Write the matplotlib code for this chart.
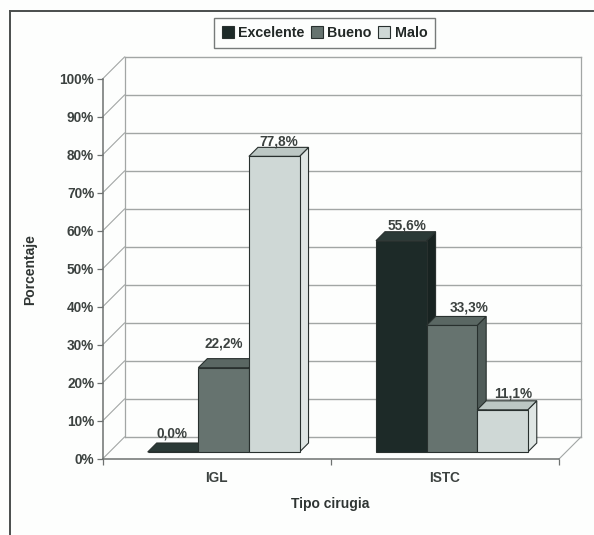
import matplotlib
matplotlib.use("Agg")
import matplotlib.pyplot as plt
from matplotlib.lines import Line2D
from matplotlib.patches import Patch, Polygon

categories = ["IGL", "ISTC"]
series_names = ["Excelente", "Bueno", "Malo"]
excelente = [0.0, 55.6]
bueno = [22.2, 33.3]
malo = [77.8, 11.1]
y_ticks = list(range(0, 101, 10))

# label nudges in pixels (x, y above the bar front), category then series
label_nudge = [[(-1, 19), (0, 24), (5, 15)],
               [(6, 15), (17, 18), (11, 16)]]

W, H = 594, 535
plt.rcParams["font.family"] = ["Liberation Sans", "DejaVu Sans"]
plt.rcParams["font.weight"] = "bold"

fig = plt.figure(figsize=(W / 100, H / 100), dpi=100, facecolor="#fdfefd")

# front plane of the fake 3D box, in pixels
left, right, bottom, top = 102.5, 559, 459, 79
ax = fig.add_axes([left / W, 1 - bottom / H, (right - left) / W, (bottom - top) / H])
ax.set_xlim(0, 2)
ax.set_ylim(0, 100)
ax.patch.set_visible(False)
for s in ax.spines.values():
    s.set_visible(False)

ux = (right - left) / 2      # px per category
uy = (bottom - top) / 100    # px per percent

wall_dx, wall_dy = 22 / ux, 22 / uy
gap_dx, gap_dy = 7 / ux, 7 / uy
bar_dx, bar_dy = 9 / ux, 9 / uy
bar_w = 50.6 / ux

grid_col = "#a2a6a5"
axis_col = "#6e7271"

# back wall and side wall
for t in y_ticks:
    ax.plot([wall_dx, 2 + wall_dx], [t + wall_dy] * 2, color=grid_col, lw=1.0, clip_on=False, zorder=1)
    ax.plot([0, wall_dx], [t, t + wall_dy], color=grid_col, lw=0.8, clip_on=False, zorder=1)
ax.plot([wall_dx, wall_dx], [wall_dy, 100 + wall_dy], color=grid_col, lw=0.9, clip_on=False, zorder=1)
ax.plot([2 + wall_dx] * 2, [wall_dy, 100 + wall_dy], color=grid_col, lw=0.9, clip_on=False, zorder=1)
ax.plot([2, 2 + wall_dx], [0, wall_dy], color=grid_col, lw=0.8, clip_on=False, zorder=1)
ax.plot([0, 2], [0, 0], color=axis_col, lw=1.1, clip_on=False, zorder=2)
ax.plot([0, 0], [0, 100], color=axis_col, lw=1.1, clip_on=False, zorder=2)

# front, top and side colour of each series
shades = [("#1d2a28", "#2b3a37", "#182321"),
          ("#66736f", "#5a6763", "#505c59"),
          ("#cfd8d6", "#bcc7c4", "#dfe6e4")]
edge = "#28302e"

z = 3
for i, cat in enumerate(categories):
    for j, vals in enumerate([excelente, bueno, malo]):
        v = vals[i]
        x0 = i + 0.5 + gap_dx + (j - 1.5) * bar_w
        x1 = x0 + bar_w
        y0 = gap_dy
        y1 = y0 + v
        front_c, top_c, side_c = shades[j]
        ax.add_patch(Polygon([(x1, y0), (x1 + bar_dx, y0 + bar_dy), (x1 + bar_dx, y1 + bar_dy), (x1, y1)],
                             fc=side_c, ec=edge, lw=0.8, clip_on=False, zorder=z))
        ax.add_patch(Polygon([(x0, y1), (x0 + bar_dx, y1 + bar_dy), (x1 + bar_dx, y1 + bar_dy), (x1, y1)],
                             fc=top_c, ec=edge, lw=0.8, clip_on=False, zorder=z))
        ax.add_patch(Polygon([(x0, y0), (x1, y0), (x1, y1), (x0, y1)],
                             fc=front_c, ec=edge, lw=0.8, clip_on=False, zorder=z))
        nx, ny = label_nudge[i][j]
        ax.annotate(f"{v:.1f}%".replace(".", ","), xy=((x0 + x1) / 2, y1),
                    xytext=(nx * 0.72, ny * 0.72), textcoords="offset points",
                    ha="center", va="center", fontsize=9.8, color="#3c4240", zorder=50)
        z += 1

ax.set_yticks(y_ticks)
ax.set_yticklabels([f"{t}%" for t in y_ticks], fontsize=9.8, color="#3c4240")
ax.set_xticks([0, 1, 2])
ax.set_xticklabels([])
ax.set_xticks([0.5, 1.5], minor=True)
ax.set_xticklabels(categories, minor=True, fontsize=9.8, color="#3c4240")
ax.tick_params(axis="y", length=4.5, width=0.9, color=axis_col, pad=1.5)
ax.tick_params(axis="x", which="major", length=4.5, width=0.9, color=axis_col)
ax.tick_params(axis="x", which="minor", length=0, pad=9)

fig.text(330 / W, 1 - 504 / H, "Tipo cirugia", ha="center", va="center", fontsize=10, color="#2f3533")
fig.text(30 / W, 1 - 270 / H, "Porcentaje", ha="center", va="center", rotation=90, fontsize=10, color="#2f3533")

handles = [Patch(fc=shades[k][0], ec=edge, lw=0.8, label=series_names[k]) for k in range(3)]
fig.legend(handles=handles, ncol=3, loc="center", bbox_to_anchor=(324.5 / W, 1 - 33 / H),
           fontsize=10.3, frameon=True, fancybox=False, edgecolor="#777b7a", facecolor="#fdfefd",
           handlelength=0.85, handleheight=0.85, handletextpad=0.3, columnspacing=0.45,
           borderpad=0.55, borderaxespad=0, labelcolor="#222826", framealpha=1)

# page frame, only top and left are drawn
fig.add_artist(Line2D([9.5 / W, 9.5 / W], [1 - 10.5 / H, 0], color="#4a4e4d", lw=1.4))
fig.add_artist(Line2D([9.5 / W, 593 / W], [1 - 10.5 / H, 1 - 10.5 / H], color="#4a4e4d", lw=1.4))

fig.savefig("out.png", dpi=100, facecolor=fig.get_facecolor())
